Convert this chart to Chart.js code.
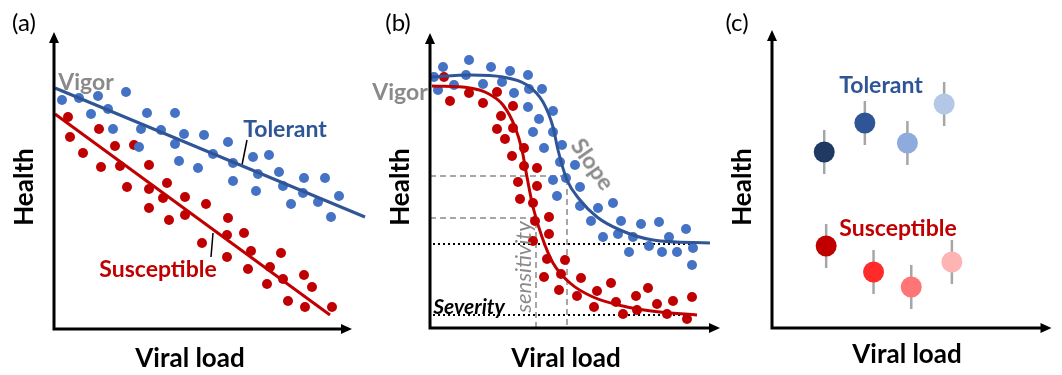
<!DOCTYPE html>
<html>
<head>
<meta charset="utf-8">
<script src="https://cdn.jsdelivr.net/npm/chart.js@4.4.1/dist/chart.umd.min.js"></script>
<style>
  body { margin: 0; width: 1062px; height: 375px; background: #fff; position: relative; overflow: hidden; font-family: Lato, "Open Sans", sans-serif; }
  canvas { position: absolute; top: 0; }
  .lbl { position: absolute; white-space: nowrap; line-height: 1; transform: translate(-50%, -50%); }
  .tag { font-size: 24px; color: #000; }
  .axis { font-size: 26px; font-weight: bold; color: #000; }
  .name { font-size: 23px; font-weight: bold; }
  .grey { color: #8a8a8a; }
  .blue { color: #2f5597; }
  .red { color: #c00000; }
</style>
</head>
<body>
<canvas id="chart-a" width="380" height="375" style="left:0"></canvas>
<canvas id="chart-b" width="360" height="375" style="left:370px"></canvas>
<canvas id="chart-c" width="332" height="375" style="left:730px"></canvas>

<div class="lbl tag" style="left:24px;top:22px">(a)</div>
<div class="lbl axis" style="left:23px;top:187px;transform:translate(-50%,-50%) rotate(-90deg)">Health</div>
<div class="lbl axis" style="left:190px;top:357px">Viral load</div>
<div class="lbl name grey" style="left:86px;top:81px">Vigor</div>
<div class="lbl name blue" style="left:285px;top:128px">Tolerant</div>
<div class="lbl name red" style="left:158px;top:268px">Susceptible</div>

<div class="lbl tag" style="left:398px;top:22px">(b)</div>
<div class="lbl axis" style="left:399px;top:187px;transform:translate(-50%,-50%) rotate(-90deg)">Health</div>
<div class="lbl axis" style="left:566px;top:357px">Viral load</div>
<div class="lbl name grey" style="left:400px;top:91px">Vigor</div>
<div class="lbl name grey" style="left:593px;top:164px;transform:translate(-50%,-50%) rotate(55deg)">Slope</div>
<div class="lbl grey" style="left:523px;top:267px;font-size:22px;font-style:italic;transform:translate(-50%,-50%) rotate(-90deg)">sensitivity</div>
<div class="lbl" style="left:469px;top:305px;font-size:21px;font-style:italic;font-weight:bold">Severity</div>

<div class="lbl tag" style="left:737px;top:22px">(c)</div>
<div class="lbl axis" style="left:741px;top:187px;transform:translate(-50%,-50%) rotate(-90deg)">Health</div>
<div class="lbl axis" style="left:907px;top:353px">Viral load</div>
<div class="lbl name blue" style="left:881px;top:84px">Tolerant</div>
<div class="lbl name red" style="left:898px;top:227px">Susceptible</div>

<script>
// (a) linear response: [viral load, health]
const tolerantA = [[8,229],[25,231],[44,233],[72,237],[37,215],[54,220],[59,200],[87,200],[93,216],[85,182],
  [107,199],[121,216],[130,195],[121,185],[125,168],[144,161],[150,194],[159,175],[174,187],[179,166],
  [179,148],[199,172],[215,174],[204,155],[202,138],[225,157],[229,143],[237,125],[250,151],[249,136],
  [271,151],[264,127],[277,112],[285,133]];
const susceptibleA = [[14,212],[16,192],[29,176],[45,200],[47,162],[61,183],[66,163],[73,142],[80,184],[95,164],
  [95,140],[95,121],[109,131],[113,146],[115,109],[131,132],[131,114],[152,125],[148,86],[174,111],
  [173,94],[173,72],[190,96],[197,78],[194,60],[216,62],[213,45],[227,76],[229,50],[234,28],
  [250,54],[258,42],[251,22],[278,22]];
const tolerantFitA = [[1,241],[311,112]];
const susceptibleFitA = [[1,215],[276,14]];
const tolerantLeaderA = [[193,189],[188,164]];
const susceptibleLeaderA = [[159,96],[157,72]];

// (b) sigmoid response
const tolerantB = [[4,251],[8,238],[13,261],[24,243],[36,253],[39,268],[53,244],[61,261],[72,246],[80,257],
  [84,235],[98,253],[98,221],[99,239],[112,239],[109,209],[103,196],[123,217],[123,196],[114,180],
  [132,183],[130,166],[123,148],[127,132],[136,150],[145,163],[150,141],[150,122],[161,107],[168,120],
  [173,91],[183,125],[188,94],[191,107],[199,76],[203,91],[211,104],[219,82],[229,106],[232,76],
  [239,91],[247,76],[256,99],[263,80],[262,63]];
const susceptibleB = [[14,251],[20,227],[39,235],[53,225],[67,236],[83,222],[71,212],[67,199],[75,189],[83,200],
  [82,172],[94,180],[94,162],[107,160],[88,146],[107,142],[90,129],[103,125],[105,107],[119,111],
  [119,94],[103,87],[117,69],[135,68],[114,51],[131,54],[129,38],[151,50],[147,32],[167,37],
  [164,21],[181,45],[186,26],[193,14],[206,32],[207,18],[218,40],[227,24],[237,14],[243,27],
  [257,9],[262,31]];
const tolerantFitB = [[0,251],[40,253],[73,251],[97,243],[113,226],[123,201],[128,178],[137,148],[150,128],
  [167,111],[190,98],[223,88],[280,85]];
const susceptibleFitB = [[2,242],[40,240],[57,235],[73,223],[85,201],[92,178],[97,151],[103,121],[112,91],
  [123,65],[140,45],[163,31],[197,21],[230,16],[267,13]];
const slopeGuideB = [[0,152],[137,152],[137,0]];
const sensitivityGuideB = [[0,110],[106,110],[106,0]];
const vigorFloorB = [[3,84],[260,84]];
const severityFloorB = [[3,13],[268,13]];

// (c) genotype means with spread
const tolerantC = [[54,176],[96,205],[140,185],[178,224]];
const susceptibleC = [[56,82],[105,56],[144,41],[186,66]];
const spreadC = 22;
const tolerantColors = ['#203864', '#2f5597', '#8faadc', '#b4c7e7'];
const susceptibleColors = ['#c00000', '#ff2b2b', '#ff7474', '#ffb4b4'];

const pts = arr => arr.map(([x, y]) => ({ x, y }));

function lineSet(arr, color, width, extra) {
  return Object.assign({
    type: 'line', data: pts(arr), borderColor: color, borderWidth: width,
    pointRadius: 0, fill: false, clip: false, order: 0
  }, extra || {});
}

function dotSet(arr, color, radius, extra) {
  return Object.assign({
    type: 'scatter', data: pts(arr), pointBackgroundColor: color, pointBorderColor: color,
    pointBorderWidth: 0, pointRadius: radius, clip: false, order: 1
  }, extra || {});
}

const axisArrows = {
  id: 'axisArrows',
  afterDatasetsDraw(chart) {
    const { ctx, chartArea: { left, top, right, bottom } } = chart;
    ctx.save();
    ctx.strokeStyle = '#000';
    ctx.fillStyle = '#000';
    ctx.lineWidth = 3;
    ctx.beginPath();
    ctx.moveTo(left, top + 8);
    ctx.lineTo(left, bottom);
    ctx.lineTo(right - 8, bottom);
    ctx.stroke();
    ctx.beginPath();
    ctx.moveTo(left, top);
    ctx.lineTo(left - 5, top + 11);
    ctx.lineTo(left + 5, top + 11);
    ctx.closePath();
    ctx.fill();
    ctx.beginPath();
    ctx.moveTo(right, bottom);
    ctx.lineTo(right - 11, bottom - 5);
    ctx.lineTo(right - 11, bottom + 5);
    ctx.closePath();
    ctx.fill();
    ctx.restore();
  }
};

function makeChart(id, datasets, padding, xMax, yMax) {
  return new Chart(document.getElementById(id), {
    type: 'scatter',
    data: { datasets },
    options: {
      responsive: false,
      animation: false,
      events: [],
      layout: { padding },
      plugins: { legend: { display: false }, tooltip: { enabled: false } },
      scales: {
        x: { type: 'linear', display: false, min: 0, max: xMax },
        y: { type: 'linear', display: false, min: 0, max: yMax }
      }
    },
    plugins: [axisArrows]
  });
}

makeChart('chart-a', [
  lineSet(tolerantFitA, '#2f5597', 3),
  lineSet(susceptibleFitA, '#c00000', 3),
  lineSet(tolerantLeaderA, '#000', 1.5),
  lineSet(susceptibleLeaderA, '#000', 1.5),
  dotSet(tolerantA, '#4472c4', 5),
  dotSet(susceptibleA, '#c00000', 5)
], { left: 54, top: 32, right: 28, bottom: 46 }, 298, 297);

makeChart('chart-b', [
  lineSet(tolerantFitB, '#2f5597', 3, { cubicInterpolationMode: 'monotone' }),
  lineSet(susceptibleFitB, '#c00000', 3, { cubicInterpolationMode: 'monotone' }),
  dotSet(tolerantB, '#4472c4', 5),
  dotSet(susceptibleB, '#c00000', 5),
  lineSet(slopeGuideB, '#8a8a8a', 1.5, { borderDash: [6, 4], order: 2 }),
  lineSet(sensitivityGuideB, '#8a8a8a', 1.5, { borderDash: [6, 4], order: 2 }),
  lineSet(vigorFloorB, '#000', 2, { borderDash: [2, 3], order: 2 }),
  lineSet(severityFloorB, '#000', 2, { borderDash: [2, 3], order: 2 })
], { left: 60, top: 33, right: 10, bottom: 47 }, 290, 295);

const barsC = tolerantC.concat(susceptibleC).map(([x, y]) =>
  lineSet([[x, y - spreadC], [x, y + spreadC]], '#a6a6a6', 2.5, { order: 2 }));

makeChart('chart-c', [
  dotSet(tolerantC, tolerantColors, 10.5, { order: 0 }),
  dotSet(susceptibleC, susceptibleColors, 10.5, { order: 0 })
].concat(barsC), { left: 42, top: 30, right: 1, bottom: 47 }, 289, 298);
</script>
</body>
</html>
